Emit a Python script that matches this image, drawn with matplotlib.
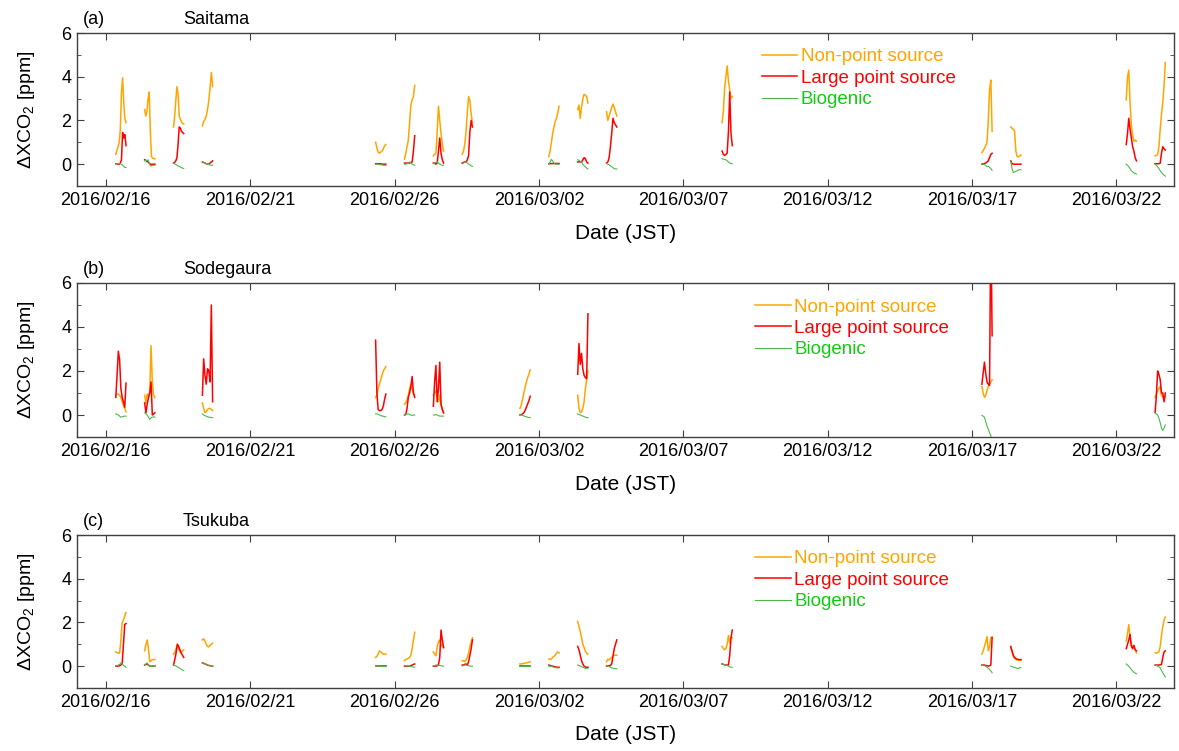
import numpy as np
import pandas as pd
import matplotlib
matplotlib.use('Agg')
import matplotlib.pyplot as plt
import matplotlib.dates as mdates
from matplotlib.ticker import FixedLocator

plt.rcParams['font.family'] = ['Liberation Sans', 'DejaVu Sans']
plt.rcParams['mathtext.fontset'] = 'custom'
plt.rcParams['mathtext.rm'] = 'Liberation Sans'
plt.rcParams['font.size'] = 13

# daily observation window (JST hours), samples evenly spread inside it
obs_start = 8.25
obs_end = 16.75

# ---- (a) Saitama ----
saitama_days = ['2016-02-16', '2016-02-17', '2016-02-18', '2016-02-19', '2016-02-25', '2016-02-26',
                '2016-02-27', '2016-02-28', '2016-03-02', '2016-03-03', '2016-03-04', '2016-03-08',
                '2016-03-17', '2016-03-18', '2016-03-22', '2016-03-23']
saitama_nps = [
    [0.45, 0.6, 0.8, 1.0, 1.6, 3.3, 3.95, 2.8, 2.1, 1.9],
    [2.5, 2.2, 2.4, 3.0, 3.3, 1.5, 0.35, 0.28, 0.25, 0.25],
    [1.7, 2.2, 2.9, 3.55, 3.2, 2.2, 2.05, 1.95, 1.85, 1.85],
    [1.75, 1.95, 2.05, 2.2, 2.5, 2.9, 3.5, 4.2, 3.55],
    [1.0, 0.75, 0.55, 0.5, 0.55, 0.6, 0.7, 0.85, 0.9],
    [0.23, 0.5, 0.8, 1.1, 1.9, 2.7, 2.95, 3.1, 3.6],
    [0.38, 0.45, 0.5, 1.5, 2.65, 2.0, 1.4, 0.9, 0.6],
    [0.45, 0.6, 0.9, 1.5, 2.4, 3.1, 2.9, 2.3, 1.9],
    [0.35, 0.6, 1.0, 1.4, 1.7, 1.95, 2.1, 2.35, 2.65],
    [2.5, 2.7, 2.1, 2.6, 3.0, 3.2, 3.15, 3.1, 2.8],
    [2.4, 2.0, 2.2, 2.4, 2.6, 2.75, 2.6, 2.4, 2.2],
    [1.9, 2.4, 3.5, 4.0, 4.5, 3.8, 3.4, 3.0, 3.1],
    [0.53, 0.62, 0.72, 0.85, 1.0, 2.0, 3.4, 3.85, 1.5],
    [1.7, 1.65, 1.6, 1.5, 0.6, 0.35, 0.33, 0.38, 0.42],
    [2.95, 4.0, 4.3, 2.8, 1.8, 1.3, 1.05, 1.1, 1.05],
    [0.38, 0.4, 0.45, 0.8, 1.6, 2.3, 2.8, 3.6, 4.65],
]
saitama_lps = [
    [0.02, 0.02, 0.0, 0.0, 0.05, 0.2, 1.45, 1.2, 1.35, 0.85],
    [0.2, 0.18, 0.12, 0.1, 0.05, 0.0, -0.02, 0.0, 0.0, 0.0],
    [0.05, 0.08, 0.15, 0.3, 0.9, 1.7, 1.65, 1.5, 1.45, 1.4],
    [0.1, 0.08, 0.05, 0.02, 0.0, 0.0, 0.05, 0.1, 0.15],
    [0.02, 0.02, 0.02, 0.02, 0.02, 0.0, 0.0, 0.0, 0.0],
    [0.05, 0.05, 0.05, 0.05, 0.05, 0.08, 0.1, 0.6, 1.3],
    [0.05, 0.05, 0.0, 0.05, 0.6, 1.2, 0.5, 0.2, 0.05],
    [0.05, 0.08, 0.1, 0.1, 0.2, 0.4, 1.5, 2.0, 1.7],
    [0.02, 0.02, 0.03, 0.03, 0.03, 0.03, 0.03, 0.03, 0.03],
    [0.1, 0.12, 0.1, 0.1, 0.2, 0.3, 0.25, 0.1, 0.05],
    [0.05, 0.1, 0.3, 0.8, 1.4, 2.1, 1.9, 1.8, 1.7],
    [0.6, 0.45, 0.4, 0.45, 0.5, 1.5, 3.3, 1.4, 0.85],
    [0.0, 0.02, 0.03, 0.05, 0.1, 0.15, 0.3, 0.45, 0.5],
    [0.15, 0.02, 0.0, 0.0, 0.0, 0.0, 0.0, 0.0, 0.0],
    [0.9, 1.4, 2.1, 1.6, 1.2, 0.8, 0.6, 0.3, 0.15],
    [0.02, 0.02, 0.02, 0.02, 0.05, 0.5, 0.8, 0.7, 0.65],
]
saitama_bio = [
    [0.02, 0.02, 0.02, 0.03, 0.02, 0.0, -0.05, -0.1, -0.15, -0.15],
    [0.15, 0.18, 0.15, 0.2, 0.05, -0.08, -0.08, -0.05, -0.05, -0.05],
    [0.05, 0.02, -0.02, -0.05, -0.08, -0.1, -0.13, -0.16, -0.18, -0.2],
    [0.1, 0.08, 0.05, 0.03, 0.0, -0.02, -0.04, -0.05, -0.05],
    [0.0, 0.0, 0.0, -0.02, -0.03, -0.03, -0.05, -0.05, -0.05],
    [0.0, 0.0, 0.02, 0.05, 0.1, 0.05, 0.0, -0.03, -0.05],
    [0.02, 0.05, 0.08, 0.1, 0.05, 0.0, -0.03, -0.05, -0.05],
    [0.02, 0.05, 0.1, 0.1, 0.05, 0.0, -0.03, -0.08, -0.1],
    [0.0, 0.1, 0.22, 0.15, 0.05, 0.0, 0.0, 0.0, 0.0],
    [0.2, 0.18, 0.12, 0.1, 0.0, -0.08, -0.12, -0.18, -0.22],
    [0.02, 0.0, -0.03, -0.07, -0.12, -0.16, -0.2, -0.22, -0.22],
    [0.25, 0.23, 0.22, 0.2, 0.15, 0.1, 0.05, 0.03, 0.02],
    [0.0, 0.0, -0.02, -0.05, -0.12, -0.1, -0.15, -0.2, -0.28],
    [0.15, -0.2, -0.38, -0.36, -0.33, -0.3, -0.27, -0.25, -0.25],
    [0.0, -0.05, -0.12, -0.2, -0.3, -0.35, -0.4, -0.43, -0.45],
    [0.0, -0.05, -0.12, -0.2, -0.3, -0.38, -0.45, -0.5, -0.55],
]

# ---- (b) Sodegaura ----
sodegaura_days = ['2016-02-16', '2016-02-17', '2016-02-19', '2016-02-25', '2016-02-26', '2016-02-27',
                  '2016-03-01', '2016-03-03', '2016-03-17', '2016-03-23']
sodegaura_nps = [
    [0.9, 0.95, 0.95, 0.9, 0.8, 0.6, 0.45, 0.3, 0.15],
    [0.9, 0.55, 0.95, 0.8, 1.1, 3.15, 1.5, 0.9, 0.8],
    [0.55, 0.3, 0.1, 0.15, 0.25, 0.3, 0.3, 0.25, 0.2],
    [0.8, 0.9, 1.2, 1.4, 1.6, 1.8, 2.0, 2.1, 2.2],
    [0.5, 0.55, 0.7, 0.9, 1.2, 1.4, 1.2, 1.0, 0.9],
    [0.9, 1.0, 1.1, 0.8, 0.6, 0.9, 0.45, 0.25, 0.1],
    [0.3, 0.45, 0.7, 1.0, 1.25, 1.5, 1.7, 1.85, 2.05],
    [0.9, 0.3, 0.1, 0.15, 0.3, 0.6, 1.2, 1.6, 2.0],
    [1.3, 1.0, 0.8, 0.9, 1.1, 1.3, 1.4, 1.5, 1.6],
    [0.8, 0.95, 1.1, 1.2, 1.3, 0.9, 0.8, 0.75, 0.85],
]
sodegaura_lps = [
    [0.8, 1.8, 2.9, 2.5, 1.2, 0.8, 0.6, 0.35, 1.45],
    [0.55, 0.1, 0.5, 0.8, 1.0, 1.5, 0.0, 0.05, 0.1],
    [0.9, 2.55, 1.8, 1.4, 2.1, 2.0, 1.5, 5.0, 0.6],
    [3.4, 1.0, 0.25, 0.2, 0.2, 0.25, 0.4, 0.7, 0.95],
    [0.0, 0.02, 0.3, 0.8, 1.0, 1.3, 1.75, 1.0, 0.8],
    [0.4, 1.5, 2.25, 0.6, 1.2, 2.4, 0.5, 0.25, 0.1],
    [0.0, 0.02, 0.05, 0.1, 0.2, 0.35, 0.5, 0.65, 0.85],
    [1.85, 3.25, 2.3, 2.8, 2.1, 1.8, 1.7, 1.65, 4.6],
    [1.4, 1.9, 2.4, 1.9, 1.5, 1.4, 1.35, 9.0, 3.6],
    [0.12, 0.9, 2.0, 1.85, 1.6, 1.0, 1.0, 0.6, 1.0],
]
sodegaura_bio = [
    [0.05, 0.03, 0.0, -0.05, -0.1, -0.08, -0.06, -0.05, -0.05],
    [0.1, 0.05, 0.0, -0.1, -0.2, -0.12, -0.1, -0.08, -0.1],
    [0.05, 0.0, -0.03, -0.05, -0.08, -0.1, -0.1, -0.12, -0.12],
    [0.05, 0.05, 0.03, 0.0, -0.02, -0.05, -0.05, -0.08, -0.08],
    [0.0, 0.02, 0.05, 0.05, 0.02, 0.0, -0.02, 0.0, 0.0],
    [0.0, 0.0, 0.02, 0.0, -0.03, -0.05, -0.05, -0.05, -0.05],
    [0.02, 0.0, -0.02, -0.04, -0.06, -0.08, -0.1, -0.11, -0.12],
    [0.05, 0.02, 0.0, -0.02, -0.05, -0.07, -0.1, -0.12, -0.12],
    [-0.02, -0.05, -0.1, -0.3, -0.5, -0.65, -0.8, -0.95, -1.2],
    [0.09, 0.05, 0.0, -0.15, -0.35, -0.6, -0.7, -0.6, -0.45],
]

# ---- (c) Tsukuba ----
tsukuba_days = ['2016-02-16', '2016-02-17', '2016-02-18', '2016-02-19', '2016-02-25', '2016-02-26',
                '2016-02-27', '2016-02-28', '2016-03-01', '2016-03-02', '2016-03-03', '2016-03-04',
                '2016-03-08', '2016-03-17', '2016-03-18', '2016-03-22', '2016-03-23']
tsukuba_nps = [
    [0.65, 0.62, 0.6, 0.6, 1.2, 2.0, 2.1, 2.3, 2.45],
    [0.7, 1.0, 1.2, 0.8, 0.2, 0.25, 0.3, 0.3, 0.3],
    [0.55, 0.6, 0.8, 1.0, 0.8, 0.65, 0.6, 0.7, 0.75],
    [1.2, 1.25, 1.15, 1.0, 0.9, 0.88, 0.95, 1.0, 1.05],
    [0.4, 0.45, 0.55, 0.7, 0.65, 0.6, 0.55, 0.55, 0.55],
    [0.25, 0.3, 0.33, 0.36, 0.4, 0.5, 0.8, 1.2, 1.55],
    [0.65, 0.55, 0.47, 0.9, 1.1, 1.2, 1.0, 0.9, 0.85],
    [0.25, 0.25, 0.2, 0.3, 0.4, 0.6, 0.9, 1.1, 1.3],
    [0.1, 0.1, 0.12, 0.12, 0.14, 0.15, 0.16, 0.18, 0.2],
    [0.33, 0.3, 0.33, 0.4, 0.45, 0.5, 0.6, 0.65, 0.6],
    [2.05, 1.8, 1.6, 1.3, 1.0, 0.85, 0.7, 0.6, 0.55],
    [0.2, 0.32, 0.28, 0.35, 0.4, 0.45, 0.5, 0.5, 0.5],
    [0.9, 0.8, 0.75, 0.8, 1.0, 1.4, 1.05, 1.3, 1.3],
    [0.55, 0.7, 0.9, 1.1, 1.35, 0.7, 0.9, 1.3, 1.35],
    [0.85, 0.65, 0.45, 0.35, 0.3, 0.28, 0.27, 0.27, 0.27],
    [1.15, 1.5, 1.9, 1.3, 1.0, 0.9, 0.85, 0.75, 0.6],
    [0.6, 0.6, 0.62, 0.65, 0.9, 1.4, 1.8, 2.1, 2.25],
]
tsukuba_lps = [
    [0.0, 0.0, 0.0, 0.02, 0.05, 0.12, 1.0, 1.9, 1.95],
    [0.05, 0.08, 0.1, 0.05, 0.0, 0.0, 0.0, 0.0, 0.0],
    [0.05, 0.3, 0.6, 1.0, 0.9, 0.75, 0.6, 0.5, 0.4],
    [0.15, 0.13, 0.1, 0.08, 0.05, 0.03, 0.02, 0.0, 0.0],
    [0.02, 0.02, 0.02, 0.02, 0.02, 0.02, 0.02, 0.02, 0.02],
    [0.0, 0.0, 0.0, 0.0, 0.0, 0.02, 0.05, 0.08, 0.1],
    [0.0, 0.0, 0.0, 0.02, 0.05, 0.4, 1.65, 1.2, 0.85],
    [0.05, 0.05, 0.08, 0.1, 0.05, 0.2, 0.5, 0.8, 1.2],
    [0.02, 0.02, 0.02, 0.02, 0.02, 0.02, 0.02, 0.02, 0.02],
    [0.05, 0.03, 0.0, 0.0, -0.02, -0.03, -0.05, -0.05, -0.05],
    [0.9, 0.75, 0.5, 0.25, 0.1, 0.0, -0.05, -0.05, -0.05],
    [0.0, 0.0, 0.02, 0.03, 0.1, 0.45, 0.8, 1.0, 1.2],
    [0.1, 0.08, 0.06, 0.05, 0.05, 0.05, 0.5, 1.3, 1.65],
    [0.05, 0.05, 0.05, 0.03, 0.02, 0.0, 0.02, 0.05, 1.3],
    [0.9, 0.7, 0.5, 0.4, 0.35, 0.32, 0.3, 0.3, 0.3],
    [0.8, 1.0, 1.2, 1.45, 0.9, 0.8, 0.95, 0.75, 0.7],
    [0.05, 0.05, 0.05, 0.05, 0.06, 0.08, 0.4, 0.65, 0.7],
]
tsukuba_bio = [
    [0.0, 0.02, 0.05, 0.08, 0.15, 0.1, 0.03, 0.0, -0.05],
    [0.05, 0.1, 0.15, 0.05, 0.0, -0.02, 0.0, 0.0, 0.0],
    [0.05, 0.03, 0.0, -0.03, -0.06, -0.1, -0.14, -0.18, -0.2],
    [0.15, 0.13, 0.1, 0.08, 0.05, 0.03, 0.02, 0.0, -0.02],
    [0.0, 0.0, 0.0, 0.0, -0.01, -0.01, -0.02, -0.02, -0.02],
    [0.02, 0.02, 0.0, 0.0, 0.0, -0.02, -0.03, -0.05, -0.05],
    [0.0, 0.02, 0.05, 0.05, 0.05, 0.03, 0.02, 0.0, 0.0],
    [0.0, 0.03, 0.05, 0.05, 0.03, 0.02, 0.0, 0.0, 0.0],
    [0.0, 0.0, 0.0, 0.0, 0.0, 0.0, 0.0, 0.0, 0.0],
    [0.0, 0.0, -0.02, -0.03, -0.05, -0.06, -0.08, -0.08, -0.08],
    [0.05, 0.03, 0.0, -0.02, -0.05, -0.08, -0.1, -0.1, -0.1],
    [0.02, 0.0, -0.02, -0.05, -0.08, -0.1, -0.1, -0.12, -0.12],
    [0.1, 0.08, 0.07, 0.05, 0.03, 0.0, -0.03, -0.05, -0.05],
    [0.05, 0.03, 0.02, 0.0, -0.05, -0.1, -0.15, -0.22, -0.3],
    [0.0, -0.02, -0.04, -0.06, -0.08, -0.1, -0.1, -0.08, -0.06],
    [0.1, 0.05, 0.0, -0.08, -0.15, -0.22, -0.28, -0.32, -0.35],
    [0.05, 0.03, 0.0, -0.03, -0.08, -0.2, -0.3, -0.4, -0.5],
]

labels = ['Non-point source', 'Large point source', 'Biogenic']
line_colors = ['#FFA500', '#FF0000', '#4CB84C']
text_colors = ['#FFA500', '#FF0000', '#10CC10']
line_widths = [1.1, 1.1, 0.8]
tick_dates = ['2016-02-16', '2016-02-21', '2016-02-26', '2016-03-02', '2016-03-07',
              '2016-03-12', '2016-03-17', '2016-03-22']

panels = [
    ('(a)', 'Saitama', saitama_days, saitama_nps, saitama_lps, saitama_bio),
    ('(b)', 'Sodegaura', sodegaura_days, sodegaura_nps, sodegaura_lps, sodegaura_bio),
    ('(c)', 'Tsukuba', tsukuba_days, tsukuba_nps, tsukuba_lps, tsukuba_bio),
]
axes_boxes = [[0.0653, 0.7523, 0.9305, 0.2037],
              [0.0653, 0.4181, 0.9305, 0.2051],
              [0.0653, 0.0839, 0.9305, 0.2037]]
legend_x = [0.624, 0.618, 0.618]

fig = plt.figure(figsize=(11.79, 7.51), dpi=100)

for k, (letter, name, days, nps, lps, bio) in enumerate(panels):
    ax = fig.add_axes(axes_boxes[k])
    handles = []
    for s, series in enumerate([nps, lps, bio]):
        for d, vals in zip(days, series):
            hrs = np.linspace(obs_start, obs_end, len(vals))
            t = pd.Timestamp(d) + pd.to_timedelta(hrs, unit='h')
            ln, = ax.plot(t, vals, color=line_colors[s], lw=line_widths[s])
        handles.append(ln)

    ax.set_xlim(pd.Timestamp('2016-02-15'), pd.Timestamp('2016-03-24'))
    ax.set_ylim(-1, 6)
    ax.xaxis.set_major_locator(FixedLocator(mdates.date2num(pd.to_datetime(tick_dates))))
    ax.xaxis.set_major_formatter(mdates.DateFormatter('%Y/%m/%d'))
    ax.yaxis.set_major_locator(FixedLocator([0, 2, 4, 6]))
    ax.yaxis.set_minor_locator(FixedLocator([-1, 1, 3, 5]))
    ax.tick_params(which='both', direction='in', top=True, right=True, color='#404040')
    ax.tick_params(which='major', length=5, pad=4)
    ax.tick_params(which='minor', length=3)
    for sp in ax.spines.values():
        sp.set_color('#404040')
        sp.set_linewidth(1.0)

    ax.set_xlabel('Date (JST)', fontsize=15)
    ax.xaxis.set_label_coords(0.5, -0.245)
    ax.set_ylabel('ΔXCO$_2$ [ppm]', fontsize=14)
    ax.yaxis.set_label_coords(-0.036, 0.5)

    ax.text(0.005, 1.03, letter, transform=ax.transAxes, ha='left', va='bottom')
    ax.text(0.0966, 1.03, name, transform=ax.transAxes, ha='left', va='bottom')

    leg = ax.legend(handles, labels, loc='upper left', bbox_to_anchor=(legend_x[k], 0.90),
                    frameon=False, handlelength=1.9, handletextpad=0.2, labelspacing=0.23,
                    borderaxespad=0, borderpad=0, fontsize=13.5)
    for txt, c in zip(leg.get_texts(), text_colors):
        txt.set_color(c)

fig.savefig('out.png', dpi=100)
